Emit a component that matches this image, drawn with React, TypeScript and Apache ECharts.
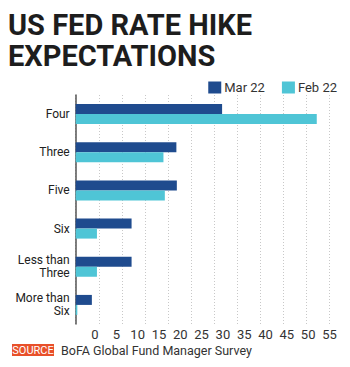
import React, { useEffect, useRef } from "react";
import * as echarts from "echarts";

const categories = ["Four", "Three", "Five", "Six", "Less than\nThree", "More than\nSix"];
const mar22 = [31.7, 21.8, 21.9, 12.1, 12.1, 3.5];
const feb22 = [52.2, 19.0, 19.3, 4.6, 4.6, 0.35];
const tickLabels = [0, 5, 10, 15, 20, 25, 30, 35, 40, 45, 50, 55];

export default function App() {
  const ref = useRef<HTMLDivElement>(null);
  useEffect(() => {
    if (!ref.current) return;
    const chart = echarts.init(ref.current, undefined, { renderer: "svg" });
    chart.setOption({
      animation: false,
      textStyle: { fontFamily: "Roboto" },
      graphic: [
        {
          type: "text",
          x: 8,
          y: 24.5,
          style: {
            text: "US FED RATE HIKE",
            font: "bold 29px Roboto",
            fill: "#1d1d1d",
            verticalAlign: "middle",
          },
        },
        {
          type: "text",
          x: 8,
          y: 56,
          style: {
            text: "EXPECTATIONS",
            font: "bold 29px Roboto",
            fill: "#1d1d1d",
            verticalAlign: "middle",
          },
        },
        {
          type: "rect",
          shape: { x: 12, y: 344, width: 42, height: 12 },
          style: { fill: "#e8502a" },
        },
        {
          type: "text",
          x: 33,
          y: 350,
          style: {
            text: "SOURCE",
            font: "11px Roboto",
            fill: "#ffffff",
            align: "center",
            verticalAlign: "middle",
          },
        },
        {
          type: "text",
          x: 61,
          y: 350,
          style: {
            text: "BoFA Global Fund Manager Survey",
            font: "12.5px Roboto",
            fill: "#333333",
            verticalAlign: "middle",
          },
        },
      ],
      legend: {
        right: 8,
        top: 76,
        itemWidth: 13,
        itemHeight: 12,
        itemGap: 17,
        icon: "rect",
        textStyle: { fontSize: 13, color: "#333", padding: [0, 0, 0, -2] },
        data: ["Mar 22", "Feb 22"],
      },
      grid: { left: 75.7, right: 20.3, top: 95, bottom: 43, containLabel: false },
      xAxis: [
        {
          type: "value",
          min: 0,
          max: 55,
          interval: 5,
          axisLabel: { show: false },
          axisLine: { show: false },
          axisTick: { show: false },
          splitLine: { show: true, lineStyle: { color: "#c8c8c8", type: [1, 2], width: 1 } },
        },
        {
          type: "value",
          position: "bottom",
          min: -4.53,
          max: 55.05,
          axisLine: { show: false },
          axisTick: { show: false },
          splitLine: { show: false },
          axisLabel: {
            customValues: tickLabels,
            fontSize: 13,
            color: "#333",
            margin: 4,
          },
        },
      ],
      yAxis: {
        type: "category",
        inverse: true,
        data: categories,
        axisLine: { show: true, lineStyle: { color: "#555", width: 1.5 } },
        axisTick: { show: false },
        axisLabel: { fontSize: 12, color: "#222", margin: 6, lineHeight: 13 },
      },
      series: [
        {
          name: "Mar 22",
          type: "bar",
          data: mar22,
          barWidth: 10,
          barGap: "0%",
          itemStyle: { color: "#1f4b8e" },
        },
        {
          name: "Feb 22",
          type: "bar",
          data: feb22,
          barWidth: 10,
          barGap: "0%",
          itemStyle: { color: "#4fc5d6" },
        },
      ],
    });
    return () => chart.dispose();
  }, []);
  return <div ref={ref} style={{ width: 350, height: 367, position: "absolute", left: 0, top: 0 }} />;
}
